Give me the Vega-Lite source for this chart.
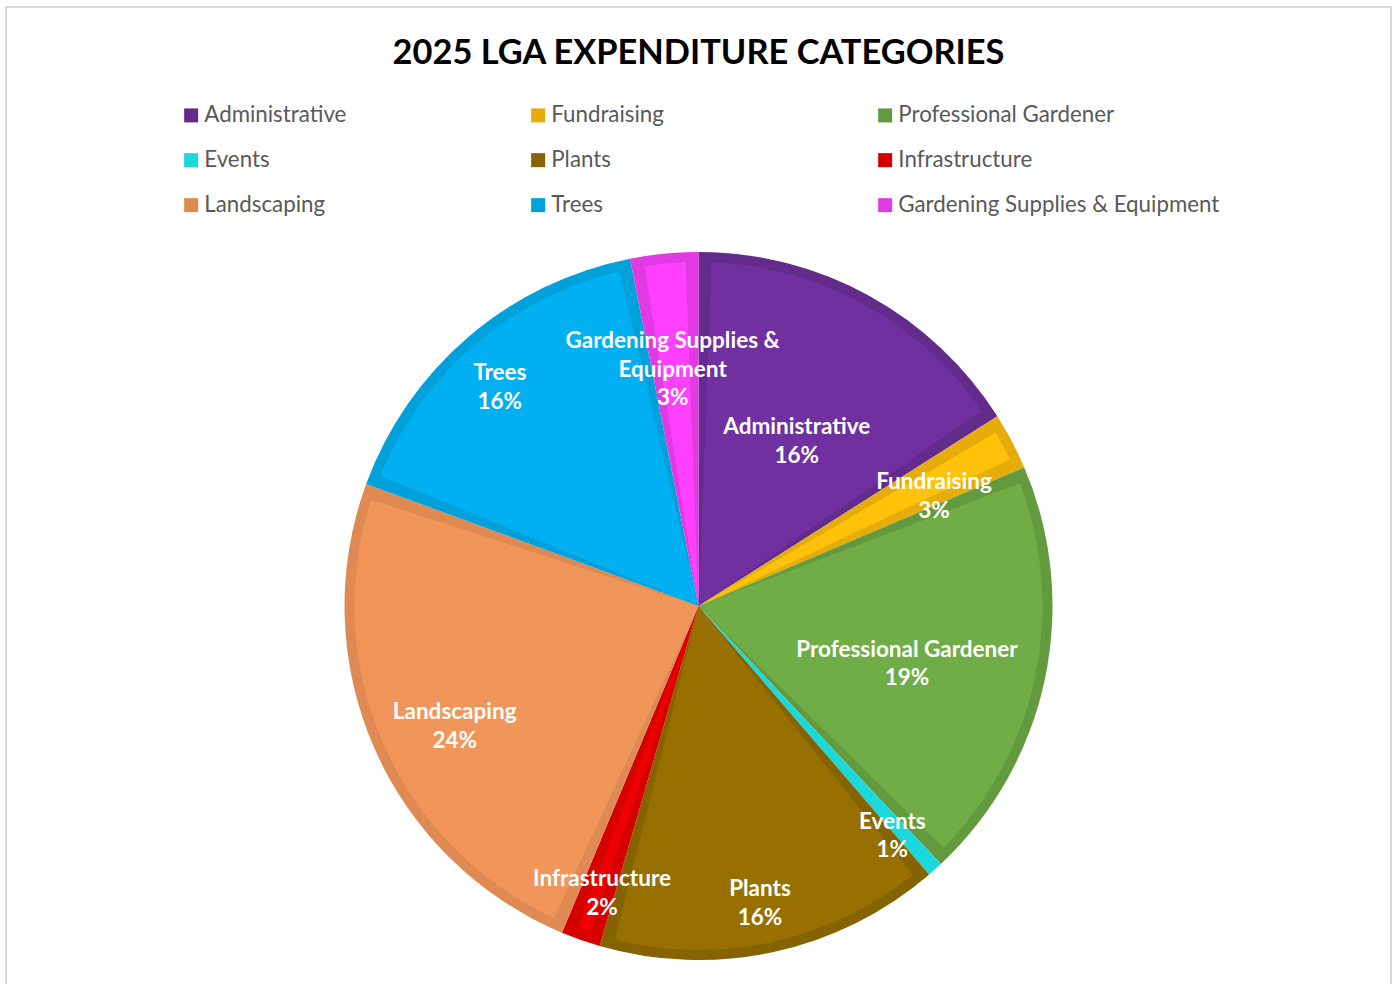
{
  "$schema": "https://vega.github.io/schema/vega-lite/v6.json",
  "width": 1385,
  "height": 1198,
  "autosize": {"type": "none"},
  "padding": {"left": 6, "top": 7, "right": 7, "bottom": 0},
  "background": "white",
  "view": {"stroke": "#d9d9d9", "strokeWidth": 2},
  "config": {
    "view": {"stroke": "#d9d9d9", "strokeWidth": 2},
    "font": "Lato"
  },
  "title": {
    "text": "2025 LGA EXPENDITURE CATEGORIES",
    "font": "Lato",
    "fontSize": 34.4,
    "fontWeight": "bold",
    "color": "#000000",
    "anchor": "middle",
    "offset": -64
  },
  "data": {
    "values": [
      {"Category": "Administrative", "rank": 1, "Value": 16.0, "label": "Administrative\n16%"},
      {"Category": "Fundraising", "rank": 2, "Value": 2.6, "label": "Fundraising\n3%"},
      {"Category": "Professional Gardener", "rank": 3, "Value": 19.4, "label": "Professional Gardener\n19%"},
      {"Category": "Events", "rank": 4, "Value": 0.7, "label": "Events\n1%"},
      {"Category": "Plants", "rank": 5, "Value": 15.8, "label": "Plants\n16%"},
      {"Category": "Infrastructure", "rank": 6, "Value": 1.8, "label": "Infrastructure\n2%"},
      {"Category": "Landscaping", "rank": 7, "Value": 24.3, "label": "Landscaping\n24%"},
      {"Category": "Trees", "rank": 8, "Value": 16.3, "label": "Trees\n16%"},
      {"Category": "Gardening Supplies & Equipment", "rank": 9, "Value": 3.1, "label": "Gardening Supplies &\nEquipment\n3%"}
    ]
  },
  "layer": [
    {
      "mark": {"type": "arc", "outerRadius": 354},
      "encoding": {
        "theta": {"field": "Value", "type": "quantitative", "stack": true},
        "order": {"field": "rank", "type": "quantitative", "sort": "ascending"},
        "color": {
          "field": "Category",
          "type": "nominal",
          "sort": ["Administrative", "Fundraising", "Professional Gardener", "Events", "Plants", "Infrastructure", "Landscaping", "Trees", "Gardening Supplies & Equipment"],
          "scale": {
            "domain": ["Administrative", "Fundraising", "Professional Gardener", "Events", "Plants", "Infrastructure", "Landscaping", "Trees", "Gardening Supplies & Equipment"],
            "range": ["#622b8c", "#e6ad0a", "#639a3e", "#1ad9dd", "#856300", "#d50000", "#de8a52", "#00a1db", "#e23ae2"]
          },
          "legend": {
            "orient": "none",
            "legendX": 174,
            "legendY": 97,
            "columns": 3,
            "direction": "horizontal",
            "gridAlign": "all",
            "columnPadding": 1,
            "rowPadding": 22,
            "padding": 0,
            "title": null,
            "symbolType": "square",
            "symbolSize": 196,
            "symbolStrokeWidth": 0,
            "symbolOpacity": 1,
            "labelFont": "Lato",
            "labelFontSize": 22.3,
            "labelColor": "#595959",
            "labelOffset": 2,
            "labelLimit": 400
          }
        }
      }
    },
    {
      "mark": {"type": "arc", "outerRadius": 344, "padAngle": 0.075},
      "encoding": {
        "theta": {"field": "Value", "type": "quantitative", "stack": true},
        "order": {"field": "rank", "type": "quantitative", "sort": "ascending"},
        "color": {
          "field": "Category",
          "type": "nominal",
          "sort": ["Administrative", "Fundraising", "Professional Gardener", "Events", "Plants", "Infrastructure", "Landscaping", "Trees", "Gardening Supplies & Equipment"],
          "scale": {
            "domain": ["Administrative", "Fundraising", "Professional Gardener", "Events", "Plants", "Infrastructure", "Landscaping", "Trees", "Gardening Supplies & Equipment"],
            "range": ["#7030a0", "#ffc10a", "#70ad47", "#22e5e8", "#987000", "#ee0000", "#f0965a", "#00b0f0", "#ff40ff"]
          },
          "legend": null
        }
      }
    },
    {
      "mark": {"type": "text", "radius": 204, "fontSize": 22.5, "fontWeight": "bold", "fill": "white", "lineBreak": "\n", "lineHeight": 28.5, "font": "Lato"},
      "encoding": {
        "theta": {"field": "Value", "type": "quantitative", "stack": true},
        "order": {"field": "rank", "type": "quantitative", "sort": "ascending"},
        "text": {"condition": {"test": "datum.Category === 'Administrative'", "field": "label"}, "value": ""}
      }
    },
    {
      "mark": {"type": "text", "radius": 213, "fontSize": 22.5, "fontWeight": "bold", "fill": "white", "lineBreak": "\n", "lineHeight": 28.5, "font": "Lato"},
      "encoding": {
        "theta": {"field": "Value", "type": "quantitative", "stack": true},
        "order": {"field": "rank", "type": "quantitative", "sort": "ascending"},
        "text": {"condition": {"test": "datum.Category === 'Professional Gardener'", "field": "label"}, "value": ""}
      }
    },
    {
      "mark": {"type": "text", "radius": 266, "fontSize": 22.5, "fontWeight": "bold", "fill": "white", "lineBreak": "\n", "lineHeight": 28.5, "font": "Lato"},
      "encoding": {
        "theta": {"field": "Value", "type": "quantitative", "stack": true},
        "order": {"field": "rank", "type": "quantitative", "sort": "ascending"},
        "text": {"condition": {"test": "datum.Category === 'Fundraising' || datum.Category === 'Landscaping' || datum.Category === 'Gardening Supplies & Equipment'", "field": "label"}, "value": ""}
      }
    },
    {
      "mark": {"type": "text", "radius": 290, "fontSize": 22.5, "fontWeight": "bold", "fill": "white", "lineBreak": "\n", "lineHeight": 28.5, "font": "Lato"},
      "encoding": {
        "theta": {"field": "Value", "type": "quantitative", "stack": true},
        "order": {"field": "rank", "type": "quantitative", "sort": "ascending"},
        "text": {"condition": {"test": "datum.Category === 'Events' || datum.Category === 'Plants' || datum.Category === 'Infrastructure'", "field": "label"}, "value": ""}
      }
    },
    {
      "mark": {"type": "text", "radius": 306, "fontSize": 22.5, "fontWeight": "bold", "fill": "white", "lineBreak": "\n", "lineHeight": 28.5, "font": "Lato"},
      "encoding": {
        "theta": {"field": "Value", "type": "quantitative", "stack": true},
        "order": {"field": "rank", "type": "quantitative", "sort": "ascending"},
        "text": {"condition": {"test": "datum.Category === 'Trees'", "field": "label"}, "value": ""}
      }
    }
  ],
  "resolve": {"scale": {"color": "independent"}}
}
